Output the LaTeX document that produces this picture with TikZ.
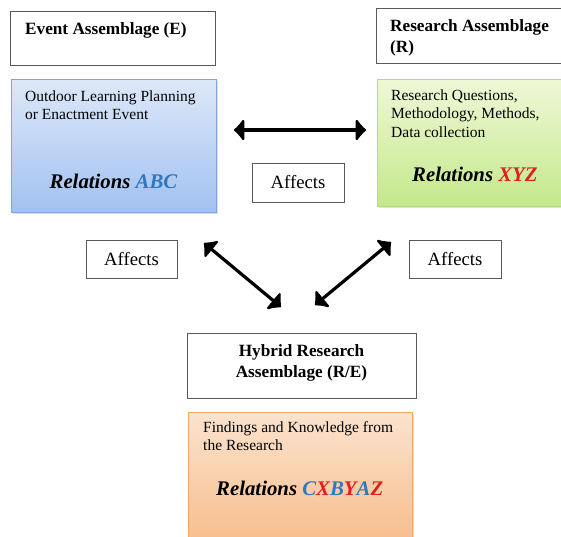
\documentclass[tikz,border=0pt]{standalone}
\usepackage{fontspec}
\setmainfont{Liberation Serif}
\usetikzlibrary{arrows.meta,shadows}

\definecolor{evfillA}{HTML}{DDE8F8}
\definecolor{evfillB}{HTML}{A2C1F1}
\definecolor{evline}{HTML}{7FA6DC}
\definecolor{resfillA}{HTML}{EFF8D8}
\definecolor{resfillB}{HTML}{C4E88A}
\definecolor{resline}{HTML}{B3D886}
\definecolor{hybfillA}{HTML}{FBE3CE}
\definecolor{hybfillB}{HTML}{F6B884}
\definecolor{hybline}{HTML}{F0A866}
\definecolor{relblue}{HTML}{2E78BE}
\definecolor{relred}{HTML}{E0201B}

\tikzset{
	titlebox/.style={draw=black!65, line width=0.9pt, fill=white, inner sep=0pt},
	affbox/.style={draw=black!65, line width=0.9pt, fill=white, inner sep=0pt,
		font=\fontsize{18.7}{21}\selectfont},
	colbox/.style={line width=0.9pt, inner sep=0pt,
		drop shadow={opacity=0.25, shadow xshift=1.5pt, shadow yshift=-2pt}},
	titletext/.style={inner sep=0pt, font=\bfseries\fontsize{17.2}{20.5}\selectfont},
	bodytext/.style={inner sep=0pt, align=left, anchor=base west,
		font=\fontsize{15.5}{18}\selectfont},
	reltext/.style={inner sep=0pt, font=\bfseries\itshape\fontsize{20.8}{24}\selectfont},
	affarrow/.style={line width=3.2pt, line cap=round,
		{Latex[length=11pt,width=27pt,round]}-{Latex[length=11pt,width=27pt,round]}}
}

\begin{document}
\begin{tikzpicture}[x=1pt, y=-1pt]
	%%%%% START %%%%%
	\clip (0, 0) rectangle (561, 536);
	\fill[white] (0, 0) rectangle (561, 536);

	% event assemblage (multi-line texts sit on their last baseline)
	\node[titlebox, minimum width=205pt, minimum height=54pt] (evtitle) at (112.5, 38) {};
	\node[titletext, anchor=base west] (evname) at (25, 34) {Event Assemblage (E)};
	\node[colbox, draw=evline, top color=evfillA, bottom color=evfillB,
		minimum width=205pt, minimum height=133pt] (evbox) at (113.5, 145.5) {};
	\node[bodytext] (evtext) at (25, 119.5) {Outdoor Learning Planning\\or Enactment Event};
	\node[reltext, anchor=base] (evrel) at (113.5, 188) {Relations \textcolor{relblue}{ABC}};

	% research assemblage
	\node[titlebox, minimum width=204pt, minimum height=55pt] (restitle) at (478, 35.5) {};
	\node[titletext, align=left, anchor=base west] (resname) at (390, 52) {Research Assemblage\\(R)};
	\node[colbox, draw=resline, top color=resfillA, bottom color=resfillB,
		minimum width=203pt, minimum height=127pt] (resbox) at (478.5, 142.5) {};
	\node[bodytext, font=\fontsize{15.5}{18.5}\selectfont] (restext) at (391, 137)
		{Research Questions,\\Methodology, Methods,\\Data collection};
	\node[reltext, anchor=base west] (resrel) at (412, 181) {Relations \textcolor{relred}{XYZ}};

	% hybrid assemblage
	\node[titlebox, minimum width=229pt, minimum height=65pt] (hybtitle) at (301.5, 365.5) {};
	\node[titletext, align=center, anchor=base] (hybname) at (301.5, 377) {Hybrid Research\\Assemblage (R/E)};
	\node[colbox, draw=hybline, top color=hybfillA, bottom color=hybfillB,
		minimum width=224pt, minimum height=148pt] (hybbox) at (300, 486) {};
	\node[bodytext, font=\fontsize{15.5}{17.5}\selectfont] (hybtext) at (203, 450)
		{Findings and Knowledge from\\the Research};
	\node[reltext, anchor=base west] (hybrel) at (216, 495) {Relations
		\textcolor{relblue}{C}\textcolor{relred}{X}\textcolor{relblue}{B}\textcolor{relred}{Y}\textcolor{relblue}{A}\textcolor{relred}{Z}};

	% affects labels
	\node[affbox, minimum width=92pt, minimum height=39pt] (affmid) at (298, 182.5) {Affects};
	\node[affbox, minimum width=91pt, minimum height=38pt] (affleft) at (131.5, 259) {Affects};
	\node[affbox, minimum width=92pt, minimum height=38pt] (affright) at (455, 259) {Affects};

	% arrows
	\coordinate (evend) at (234, 130);
	\coordinate (resend) at (366, 130);
	\coordinate (evdown) at (204, 243);
	\coordinate (hybleft) at (281, 307);
	\coordinate (resdown) at (391, 242);
	\coordinate (hybright) at (315, 305);

	\draw[affarrow] (evend) -- (resend);
	\draw[affarrow] (evdown) -- (hybleft);
	\draw[affarrow] (resdown) -- (hybright);
	%%%%% END %%%%%
\end{tikzpicture}
\end{document}
